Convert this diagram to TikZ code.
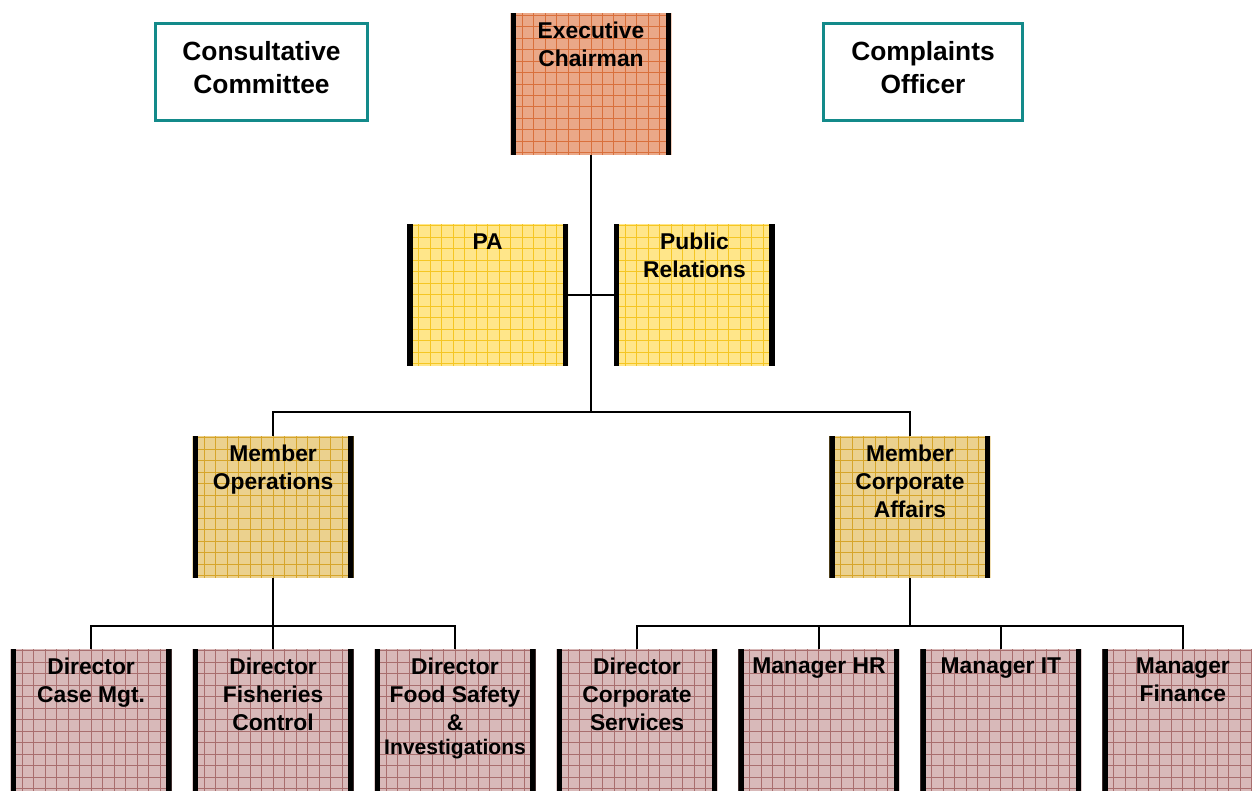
\documentclass[tikz,border=0pt]{standalone}
\usepackage{fontspec}
\setmainfont{Liberation Sans}
\definecolor{teal1}{HTML}{138A8A}
\definecolor{chairbg}{HTML}{EAA888}
\definecolor{chairln}{HTML}{D9703C}
\definecolor{staffbg}{HTML}{FFE68A}
\definecolor{staffln}{HTML}{F5C623}
\definecolor{memberbg}{HTML}{EBD18E}
\definecolor{memberln}{HTML}{D6A52A}
\definecolor{dirbg}{HTML}{D8B9B9}
\definecolor{dirln}{HTML}{A86E6E}
\usetikzlibrary{positioning, calc}

\begin{document}
\begin{tikzpicture}[
  x=0.02cm, y=-0.02cm,
  node distance = 0.42cm,
  post/.style   = {fill=#1bg, minimum width=3.22cm, minimum height=2.84cm,
                   inner sep=0pt, outer sep=0pt,
                   path picture={
                     \draw[#1ln, line width=0.02cm, step=0.23cm]
                       (path picture bounding box.south west) grid (path picture bounding box.north east);
                     \draw[black, line width=0.11cm]
                       ([xshift=0.055cm]path picture bounding box.south west) -- ([xshift=0.055cm]path picture bounding box.north west)
                       ([xshift=-0.055cm]path picture bounding box.south east) -- ([xshift=-0.055cm]path picture bounding box.north east);
                   }},
  side/.style   = {draw=teal1, fill=white, line width=0.06cm, minimum height=1.94cm, inner sep=0pt},
  txt/.style    = {font=\fontsize{13}{15.9}\selectfont\bfseries, align=center, inner sep=0pt},
  big/.style    = {font=\fontsize{15}{18.7}\selectfont\bfseries, align=center, inner sep=0pt},
  conn/.style   = {line width=0.04cm, black}
]
\useasboundingbox (0,0) rectangle (1252,791);

% ── TOP ─────────────────────────────────────────────────
\node[post=chair] (chair) at (591,84) {};
\node[txt, below=0.18cm of chair.north] (chair-t) {Executive\\Chairman};

\node[side, minimum width=4.24cm] (cons) at (261.5,72) {};
\node[big, below=0.38cm of cons.north] (cons-t) {Consultative\\Committee};
\node[side, minimum width=3.98cm] (compl) at (923,72) {};
\node[big, below=0.38cm of compl.north] (compl-t) {Complaints\\Officer};

% ── STAFF ───────────────────────────────────────────────
\node[post=staff, below left=1.38cm and 0.46cm of chair.south]  (pa) {};
\node[txt, below=0.18cm of pa.north] (pa-t) {PA};
\node[post=staff, below right=1.38cm and 0.46cm of chair.south] (pr) {};
\node[txt, below=0.18cm of pr.north] (pr-t) {Public\\Relations};

% ── MEMBERS ─────────────────────────────────────────────
\coordinate[below=5.14cm of chair.south] (hub);
\node[post=member, below=0.48cm of hub, xshift=-6.36cm] (memops) {};
\node[txt, below=0.18cm of memops.north] (memops-t) {Member\\Operations};
\node[post=member, below=0.48cm of hub, xshift=6.38cm]  (memcorp) {};
\node[txt, below=0.18cm of memcorp.north] (memcorp-t) {Member\\Corporate\\Affairs};

% ── DIRECTORS / MANAGERS ────────────────────────────────
\coordinate[below=0.96cm of memops.south]  (opsbus);
\coordinate[below=0.96cm of memcorp.south] (corpbus);
\node[post=dir, below=0.46cm of opsbus] (dfish) {};
\node[post=dir, left=of dfish]          (dcase) {};
\node[post=dir, right=of dfish]         (dfood) {};
\node[post=dir, right=of dfood]         (dcorp) {};
\node[post=dir, right=of dcorp]         (mhr)   {};
\node[post=dir, right=of mhr]           (mit)   {};
\node[post=dir, right=of mit]           (mfin)  {};

\node[txt, below=0.18cm of dcase.north] (dcase-t) {Director\\Case Mgt.};
\node[txt, below=0.18cm of dfish.north] (dfish-t) {Director\\Fisheries\\Control};
\node[txt, below=0.18cm of dfood.north] (dfood-t)
     {Director\\Food Safety\\\&\\[-2.5pt]{\fontsize{12}{14}\selectfont Investigations}};
\node[txt, below=0.18cm of dcorp.north] (dcorp-t) {Director\\Corporate\\Services};
\node[txt, below=0.18cm of mhr.north]   (mhr-t)   {Manager HR};
\node[txt, below=0.18cm of mit.north]   (mit-t)   {Manager IT};
\node[txt, below=0.18cm of mfin.north]  (mfin-t)  {Manager\\Finance};

% ── LINES ───────────────────────────────────────────────
\draw[conn] (chair.south) -- (hub);
\draw[conn] (pa.east) -- (pr.west);
\draw[conn] (memops.north) |- (hub) -| (memcorp.north);
\draw[conn] (memops.south) -- (opsbus);
\draw[conn] (dcase.north) |- (opsbus) -| (dfood.north);
\draw[conn] (dfish.north) -- (opsbus);
\draw[conn] (memcorp.south) -- (corpbus);
\draw[conn] (dcorp.north) |- (corpbus) -| (mfin.north);
\draw[conn] (mhr.north) -- (mhr.north |- corpbus);
\draw[conn] (mit.north) -- (mit.north |- corpbus);

\end{tikzpicture}
\end{document}
